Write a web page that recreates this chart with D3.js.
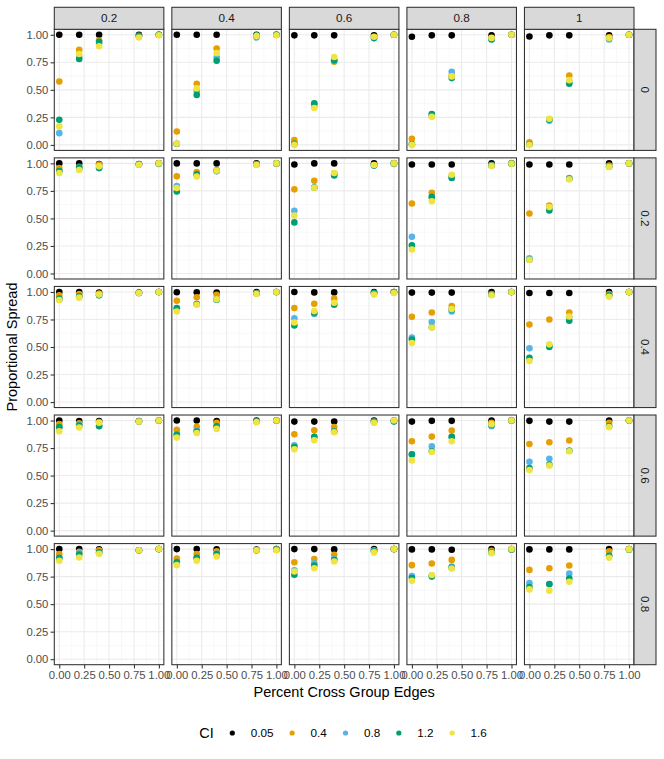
<!DOCTYPE html>
<head>
    <meta charset="utf-8">
    <script src="https://d3js.org/d3.v7.min.js"></script>
    <style>
        body {
            margin: 0;
            background: #fff;
            font-family: "Liberation Sans", Arial, sans-serif;
        }
        .tick text { fill: #4D4D4D; font-size: 11.3px; }
        .tick line { stroke: #333333; }
        .strip text { fill: #1A1A1A; font-size: 11.7px; }
        .grid-major { stroke: #EBEBEB; stroke-width: 1.07; }
        .grid-minor { stroke: #F2F2F2; stroke-width: 0.55; }
    </style>
</head>

<body>
    <script>
        // facet levels
        var colLevels = ["0.2", "0.4", "0.6", "0.8", "1"];
        var rowLevels = ["0", "0.2", "0.4", "0.6", "0.8"];
        var xValues = [0, 0.2, 0.4, 0.8, 1];
        var ciLevels = ["0.05", "0.4", "0.8", "1.2", "1.6"];
        var ciColors = ["#000000", "#E69F00", "#56B4E9", "#009E73", "#F0E442"];
        var tickValues = [0, 0.25, 0.5, 0.75, 1];

        // one entry per panel (row facet by row facet, columns 0.2 .. 1), values at xValues
        var spreadCI005 = [
            [1, 1, 1, 1, 1], [1, 1, 1, 1, 1], [0.995, 0.995, 0.995, 0.995, 1], [0.982, 0.995, 0.995, 0.995, 1], [0.985, 0.995, 0.995, 0.995, 1],
            [1, 1, 0.995, 0.995, 1], [1, 1, 1, 1, 1], [0.99, 1, 1, 1, 1], [0.99, 0.99, 0.99, 1, 1], [0.99, 0.99, 0.99, 1, 1],
            [1, 1, 0.995, 0.995, 1], [0.997, 0.997, 0.995, 1, 1], [1, 0.996, 0.996, 1, 1], [0.994, 0.994, 0.994, 1, 1], [0.99, 0.99, 0.99, 1, 1],
            [1, 0.995, 0.995, 0.995, 1], [1, 1, 0.995, 1, 1], [0.99, 0.99, 0.99, 1, 1], [0.99, 0.997, 0.997, 1, 1], [0.997, 0.99, 0.99, 1, 1],
            [1, 1, 0.997, 0.99, 1], [1, 1, 0.997, 0.995, 1], [1, 1, 0.997, 1, 1], [0.997, 0.997, 0.994, 1, 1], [0.997, 0.997, 0.997, 1, 1]
        ];
        var spreadCI04 = [
            [0.576, 0.863, 0.948, 0.99, 1], [0.122, 0.555, 0.875, 0.99, 1], [0.043, 0.35, 0.756, 0.98, 1], [0.055, 0.26, 0.63, 0.97, 1], [0.024, 0.23, 0.631, 0.98, 1],
            [0.958, 0.97, 0.99, 0.99, 1], [0.882, 0.921, 0.94, 0.99, 1], [0.764, 0.842, 0.91, 0.985, 1], [0.636, 0.733, 0.89, 0.985, 1], [0.545, 0.618, 0.86, 0.98, 1],
            [0.97, 0.98, 0.985, 0.99, 1], [0.92, 0.951, 0.973, 0.99, 1], [0.854, 0.893, 0.939, 0.99, 1], [0.774, 0.814, 0.872, 0.98, 1], [0.704, 0.75, 0.814, 0.98, 1],
            [0.967, 0.975, 0.985, 0.99, 1], [0.915, 0.942, 0.979, 0.99, 1], [0.875, 0.912, 0.94, 0.99, 1], [0.812, 0.854, 0.909, 0.98, 1], [0.787, 0.802, 0.818, 0.98, 1],
            [0.954, 0.975, 0.99, 0.99, 1], [0.915, 0.954, 0.98, 0.99, 1], [0.881, 0.909, 0.948, 0.99, 1], [0.854, 0.869, 0.902, 0.985, 1], [0.811, 0.826, 0.851, 0.98, 1]
        ];
        var spreadCI08 = [
            [0.107, 0.80, 0.92, 0.985, 1], [0.01, 0.49, 0.793, 0.976, 1], [0.01, 0.37, 0.77, 0.97, 1], [0.005, 0.275, 0.665, 0.96, 1], [0.005, 0.22, 0.57, 0.957, 1],
            [0.93, 0.95, 0.955, 0.99, 0.994], [0.794, 0.9, 0.93, 0.99, 1], [0.57, 0.78, 0.9, 0.98, 0.995], [0.333, 0.69, 0.87, 0.98, 0.996], [0.139, 0.59, 0.867, 0.97, 1],
            [0.93, 0.955, 0.97, 0.99, 1], [0.85, 0.89, 0.93, 0.985, 1], [0.76, 0.8, 0.89, 0.99, 0.995], [0.585, 0.726, 0.823, 0.975, 1], [0.488, 0.51, 0.77, 0.965, 1],
            [0.94, 0.96, 0.955, 0.99, 1], [0.875, 0.91, 0.948, 0.99, 1], [0.775, 0.85, 0.9, 0.985, 0.995], [0.69, 0.766, 0.85, 0.948, 1], [0.626, 0.653, 0.726, 0.95, 1],
            [0.92, 0.963, 0.97, 0.99, 1], [0.884, 0.92, 0.96, 0.99, 0.995], [0.808, 0.872, 0.909, 0.98, 1], [0.756, 0.76, 0.841, 0.97, 1], [0.692, 0.68, 0.777, 0.94, 0.995]
        ];
        var spreadCI12 = [
            [0.229, 0.78, 0.936, 0.99, 1], [0.01, 0.454, 0.765, 0.995, 1], [0.01, 0.378, 0.768, 0.97, 1], [0.005, 0.28, 0.607, 0.957, 1], [0.005, 0.23, 0.555, 0.97, 1],
            [0.93, 0.964, 0.96, 0.99, 1], [0.745, 0.9, 0.93, 0.995, 1], [0.464, 0.78, 0.89, 0.98, 1], [0.255, 0.697, 0.867, 0.98, 0.996], [0.125, 0.573, 0.86, 0.97, 1],
            [0.94, 0.96, 0.97, 0.99, 1], [0.854, 0.89, 0.93, 0.985, 1], [0.695, 0.81, 0.884, 0.99, 0.995], [0.567, 0.68, 0.84, 0.975, 1], [0.402, 0.5, 0.738, 0.97, 1],
            [0.94, 0.955, 0.948, 0.99, 1], [0.87, 0.9, 0.948, 0.99, 1], [0.76, 0.851, 0.9, 0.99, 0.99], [0.693, 0.72, 0.851, 0.96, 1], [0.568, 0.6, 0.726, 0.95, 1],
            [0.918, 0.95, 0.97, 0.99, 1], [0.88, 0.92, 0.955, 0.99, 0.995], [0.768, 0.851, 0.9, 0.98, 1], [0.738, 0.75, 0.83, 0.97, 0.995], [0.655, 0.683, 0.732, 0.939, 0.995]
        ];
        var spreadCI16 = [
            [0.168, 0.826, 0.896, 0.976, 0.995], [0.012, 0.515, 0.835, 0.99, 0.995], [0, 0.335, 0.799, 0.982, 1], [0, 0.256, 0.622, 0.972, 1], [0, 0.238, 0.588, 0.97, 1],
            [0.912, 0.94, 0.973, 0.988, 1], [0.776, 0.88, 0.933, 0.988, 1], [0.527, 0.779, 0.912, 0.985, 1], [0.218, 0.655, 0.897, 0.976, 0.996], [0.124, 0.603, 0.855, 0.967, 1],
            [0.927, 0.948, 0.976, 0.99, 1], [0.823, 0.884, 0.933, 0.982, 1], [0.723, 0.826, 0.902, 0.976, 0.99], [0.537, 0.677, 0.845, 0.97, 1], [0.372, 0.524, 0.777, 0.957, 1],
            [0.903, 0.936, 0.979, 0.99, 1], [0.845, 0.887, 0.924, 0.985, 1], [0.739, 0.82, 0.894, 0.979, 1], [0.638, 0.714, 0.812, 0.967, 1], [0.55, 0.59, 0.72, 0.94, 1],
            [0.893, 0.924, 0.957, 0.99, 1], [0.854, 0.893, 0.933, 0.99, 0.99], [0.796, 0.826, 0.887, 0.97, 1], [0.713, 0.765, 0.823, 0.963, 1], [0.634, 0.622, 0.704, 0.921, 0.997]
        ];
        var seriesValues = [spreadCI005, spreadCI04, spreadCI08, spreadCI12, spreadCI16];

        var width = 664,
            height = 759,
            plotLeft = 54.3,
            plotRight = 634,
            plotTop = 29.3,
            plotBottom = 664.7,
            stripSize = 22;

        var colBand = d3.scaleBand().domain(colLevels).range([plotLeft, plotRight]).paddingInner(0.068);
        var rowBand = d3.scaleBand().domain(rowLevels).range([plotTop, plotBottom]).paddingInner(0.058);
        var pw = colBand.bandwidth(),
            ph = rowBand.bandwidth();

        var x = d3.scaleLinear().domain([-0.05, 1.05]).range([0, pw]);
        var y = d3.scaleLinear().domain([-0.05, 1.05]).range([ph, 0]);
        var color = d3.scaleOrdinal().domain(ciLevels).range(ciColors);
        var minorTicks = [0.125, 0.375, 0.625, 0.875];

        var svg = d3.select("body").append("svg")
            .attr("width", width)
            .attr("height", height);

        svg.append("rect").attr("width", width).attr("height", height).attr("fill", "#fff");

        var cells = [];
        rowLevels.forEach(function(r, ri) {
            colLevels.forEach(function(c, ci) {
                cells.push({ row: r, col: c, ri: ri, ci: ci, idx: ri * colLevels.length + ci });
            });
        });

        var panels = svg.selectAll("g.panel")
            .data(cells)
            .enter().append("g")
            .attr("class", "panel")
            .attr("transform", function(d) {
                return "translate(" + colBand(d.col) + "," + rowBand(d.row) + ")";
            });

        panels.append("rect")
            .attr("width", pw).attr("height", ph).attr("fill", "#fff");

        // grid
        panels.each(function() {
            var g = d3.select(this);
            g.selectAll("line.vmin").data(minorTicks).enter().append("line")
                .attr("class", "grid-minor")
                .attr("x1", x).attr("x2", x).attr("y1", 0).attr("y2", ph);
            g.selectAll("line.hmin").data(minorTicks).enter().append("line")
                .attr("class", "grid-minor")
                .attr("y1", y).attr("y2", y).attr("x1", 0).attr("x2", pw);
            g.selectAll("line.vmaj").data(tickValues).enter().append("line")
                .attr("class", "grid-major")
                .attr("x1", x).attr("x2", x).attr("y1", 0).attr("y2", ph);
            g.selectAll("line.hmaj").data(tickValues).enter().append("line")
                .attr("class", "grid-major")
                .attr("y1", y).attr("y2", y).attr("x1", 0).attr("x2", pw);
        });

        // points, series drawn in CI order
        panels.each(function(d) {
            var g = d3.select(this);
            var pts = [];
            ciLevels.forEach(function(level, si) {
                seriesValues[si][d.idx].forEach(function(v, k) {
                    pts.push({ ci: level, x: xValues[k], v: v });
                });
            });
            g.selectAll("circle").data(pts).enter().append("circle")
                .attr("cx", function(p) { return x(p.x); })
                .attr("cy", function(p) { return y(p.v); })
                .attr("r", 3.3)
                .attr("fill", function(p) { return color(p.ci); });
        });

        panels.append("rect")
            .attr("width", pw).attr("height", ph)
            .attr("fill", "none").attr("stroke", "#333333").attr("stroke-width", 1.07);

        // axes
        var fmt = d3.format(".2f");
        rowLevels.forEach(function(r) {
            var ax = svg.append("g")
                .attr("transform", "translate(" + plotLeft + "," + rowBand(r) + ")")
                .call(d3.axisLeft(y).tickValues(tickValues).tickFormat(fmt).tickSize(3.7).tickPadding(2.2));
            ax.select(".domain").remove();
            ax.selectAll(".tick line").attr("stroke-width", 1.07);
            ax.selectAll("text").style("font-family", "inherit");
        });
        colLevels.forEach(function(c) {
            var ax = svg.append("g")
                .attr("transform", "translate(" + colBand(c) + "," + plotBottom + ")")
                .call(d3.axisBottom(x).tickValues(tickValues).tickFormat(fmt).tickSize(3.7).tickPadding(2.2));
            ax.select(".domain").remove();
            ax.selectAll(".tick line").attr("stroke-width", 1.07);
            ax.selectAll("text").style("font-family", "inherit");
        });

        // strips
        var topStrips = svg.selectAll("g.strip-top").data(colLevels).enter().append("g")
            .attr("class", "strip")
            .attr("transform", function(c) { return "translate(" + colBand(c) + "," + (plotTop - stripSize) + ")"; });
        topStrips.append("rect")
            .attr("width", pw).attr("height", stripSize)
            .attr("fill", "#D9D9D9").attr("stroke", "#333333").attr("stroke-width", 1.07);
        topStrips.append("text")
            .attr("x", pw / 2).attr("y", stripSize / 2).attr("dy", "0.35em")
            .attr("text-anchor", "middle")
            .text(String);

        var sideStrips = svg.selectAll("g.strip-side").data(rowLevels).enter().append("g")
            .attr("class", "strip")
            .attr("transform", function(r) { return "translate(" + plotRight + "," + rowBand(r) + ")"; });
        sideStrips.append("rect")
            .attr("width", stripSize).attr("height", ph)
            .attr("fill", "#D9D9D9").attr("stroke", "#333333").attr("stroke-width", 1.07);
        sideStrips.append("text")
            .attr("transform", "translate(" + (stripSize / 2) + "," + (ph / 2) + ") rotate(90)")
            .attr("dy", "0.35em")
            .attr("text-anchor", "middle")
            .text(String);

        // axis titles
        svg.append("text")
            .attr("x", (plotLeft + plotRight) / 2).attr("y", 697)
            .attr("text-anchor", "middle")
            .style("font-size", "14.5px").attr("fill", "#000")
            .text("Percent Cross Group Edges");

        svg.append("text")
            .attr("transform", "translate(17," + ((plotTop + plotBottom) / 2) + ") rotate(-90)")
            .attr("text-anchor", "middle")
            .style("font-size", "14.5px").attr("fill", "#000")
            .text("Proportional Spread");

        // legend
        var legend = svg.append("g").attr("transform", "translate(199.3,733)");
        legend.append("text")
            .attr("dy", "0.35em")
            .style("font-size", "14.5px")
            .text("CI");
        var lx = 33;
        ciLevels.forEach(function(level) {
            legend.append("circle")
                .attr("cx", lx).attr("cy", 0).attr("r", 2.6)
                .attr("fill", color(level));
            var t = legend.append("text")
                .attr("x", lx + 18.4).attr("dy", "0.35em")
                .style("font-size", "11.7px")
                .text(level);
            lx += 18.4 + t.node().getComputedTextLength() + 18.7;
        });
    </script>
</body>
